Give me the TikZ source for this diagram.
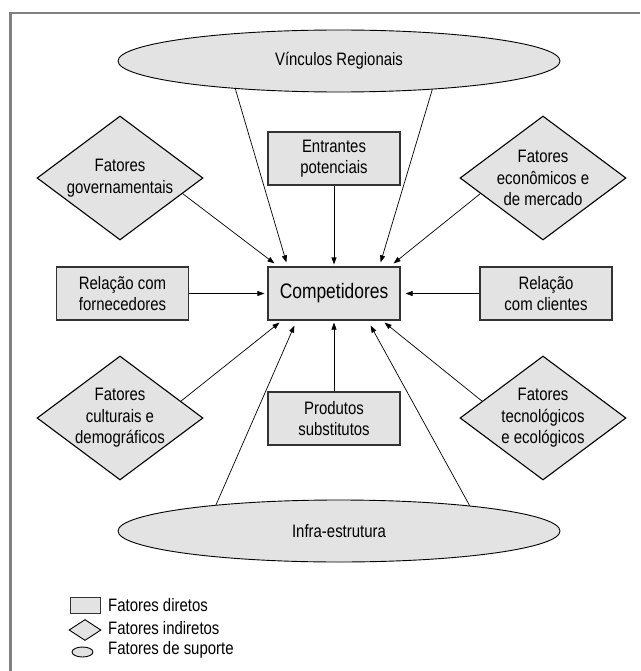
\documentclass[tikz,border=0pt]{standalone}
\usepackage{fontspec}
\setmainfont{Liberation Sans}[FakeStretch=0.83]
\usetikzlibrary{shapes.geometric,arrows.meta,calc}
\definecolor{boxfill}{HTML}{E3E3E3}
\definecolor{framegray}{HTML}{808080}
\begin{document}
\begin{tikzpicture}[x=1pt,y=-1pt,
  lbl/.style={font=\fontsize{18}{21.5}\selectfont},
  direct/.style={lbl, draw=black!80, line width=1.2pt, fill=boxfill, minimum width=132pt, minimum height=53pt, inner sep=0pt, align=center},
  indirect/.style={shape=diamond, draw=black, line width=1.1pt, fill=boxfill, minimum width=166pt, minimum height=124pt, inner sep=0pt},
  dtext/.style={lbl, align=center, inner sep=0pt},
  support/.style={lbl, ellipse, draw=black, line width=0.9pt, fill=boxfill, minimum width=442pt, minimum height=62pt, inner sep=0pt},
  conn/.style={line width=0.7pt, -{Triangle[length=7pt,width=5pt]}},
  legtext/.style={lbl, anchor=west, inner sep=0pt}
]
\useasboundingbox (0,0) rectangle (640,671);
\draw[framegray, line width=2.5pt] (10.5,671) -- (10.5,13) -- (640,13);

% support factors
\node[support] (vin) at (339,61) {Vínculos Regionais};
\node[support] (infra) at (339,531) {Infra-estrutura};

% direct factors
\node[direct] (ent) at (334,158.5) {Entrantes\\potenciais};
\node[direct, font=\fontsize{21}{25}\selectfont] (comp) at (334,293.5) {Competidores};
\node[direct] (forn) at (122.5,293.5) {Relação com\\fornecedores};
\node[direct] (cli) at (546,293.5) {Relação\\com clientes};
\node[direct] (prod) at (334,418.5) {Produtos\\substitutos};

% indirect factors
\node[indirect] (gov) at (120,178) {};
\node[dtext] (govt) at (gov) {Fatores\\governamentais};
\node[indirect] (eco) at (543,178) {};
\node[dtext] (ecot) at (eco) {Fatores\\econômicos e\\de mercado};
\node[indirect] (cul) at (120,418) {};
\node[dtext] (cult) at (cul) {Fatores\\culturais e\\demográficos};
\node[indirect] (tec) at (543,418) {};
\node[dtext] (tect) at (tec) {Fatores\\tecnológicos\\e ecológicos};

% arrow end points around the central box
\coordinate (tA) at ($(comp.north west)+(7,-3)$);
\coordinate (tB) at ($(comp.north west)+(19,-4)$);
\coordinate (tC) at ($(comp.north)+(0,-2)$);
\coordinate (tD) at ($(comp.north east)+(-20,-4)$);
\coordinate (tE) at ($(comp.north east)+(-7,-3)$);
\coordinate (bA) at ($(comp.south west)+(12,2)$);
\coordinate (bB) at ($(comp.south west)+(27,5)$);
\coordinate (bC) at ($(comp.south)+(0,2)$);
\coordinate (bD) at ($(comp.south east)+(-30,5)$);
\coordinate (bE) at ($(comp.south east)+(-16,2)$);
\coordinate (lA) at ($(comp.west)+(-3,0)$);
\coordinate (rA) at ($(comp.east)+(5,0)$);

% connectors
\draw[conn] ($(gov.east)!0.25!(gov.south)$) -- (tA);
\draw[conn] (vin.195.35) -- (tB);
\draw[conn] (ent.south) -- (tC);
\draw[conn] (vin.343.9) -- (tD);
\draw[conn] ($(eco.west)!0.25!(eco.south)$) -- (tE);
\draw[conn] ($(cul.east)!0.27!(cul.north)$) -- (bA);
\draw[conn] (infra.168.3) -- (bB);
\draw[conn] (prod.north) -- (bC);
\draw[conn] (infra.11.6) -- (bD);
\draw[conn] ($(tec.west)!0.27!(tec.north)$) -- (bE);
\draw[conn] (forn.east) -- (lA);
\draw[conn] (cli.west) -- (rA);

% legend
\node[draw=black!80, line width=0.9pt, fill=boxfill, minimum width=30pt, minimum height=16pt, inner sep=0pt] (legd) at (85,605) {};
\node[shape=diamond, draw=black, line width=0.9pt, fill=boxfill, minimum width=32pt, minimum height=21pt, inner sep=0pt] (legi) at (85,630) {};
\node[ellipse, draw=black, line width=0.9pt, fill=boxfill, minimum width=21pt, minimum height=10pt, inner sep=0pt] (legs) at (82.5,652) {};
\node[legtext] (legdt) at (108,605) {Fatores diretos};
\node[legtext] (legit) at (108,628) {Fatores indiretos};
\node[legtext] (legst) at (108,650) {Fatores de suporte};
\end{tikzpicture}
\end{document}
